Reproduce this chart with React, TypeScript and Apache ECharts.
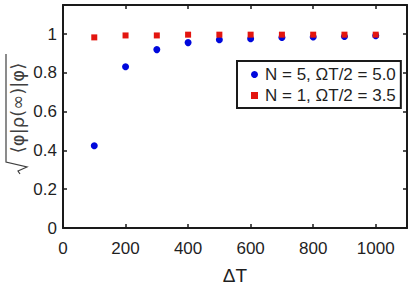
import React, { useEffect, useRef } from "react";
import * as echarts from "echarts";

const deltaT = [100, 200, 300, 400, 500, 600, 700, 800, 900, 1000];
const fidelityN5 = [0.424, 0.832, 0.92, 0.956, 0.971, 0.976, 0.983, 0.985, 0.988, 0.992];
const fidelityN1 = [0.983, 0.993, 0.993, 0.997, 0.997, 0.997, 0.997, 0.997, 0.997, 0.997];
const seriesNames = ["N = 5, \u03A9T/2 = 5.0", "N = 1, \u03A9T/2 = 3.5"];
const xTitle = "\u0394T";
const yTitle = "\u27E8\u03C6|\u03C1(\u221E)|\u03C6\u27E9";

const FONT = "Liberation Sans";
const AX = "#1f1f1f";

export default function App() {
  const ref = useRef<HTMLDivElement>(null);
  useEffect(() => {
    if (!ref.current) return;
    const chart = echarts.init(ref.current, undefined, { renderer: "svg" });
    const axisCommon = {
      axisLine: { show: true, onZero: false, lineStyle: { color: "#1a1a1a", width: 2, opacity: 1 } },
      axisTick: { show: true, inside: true, length: 4, lineStyle: { color: "#1a1a1a", width: 1.5, opacity: 1 } },
      splitLine: { show: false },
    };
    const xBase = { type: "value", min: 0, max: 1100, interval: 200, ...axisCommon };
    const yBase = { type: "value", min: 0, max: 1.15, interval: 0.2, ...axisCommon };
    chart.setOption({
      animation: false,
      backgroundColor: "#ffffff",
      grid: { left: 63, right: 7, top: 5, bottom: 57, containLabel: false, outerBoundsMode: "none" },
      xAxis: [
        {
          ...xBase,
          position: "bottom",
          axisLabel: {
            show: true,
            color: AX,
            fontFamily: FONT,
            fontSize: 17,
            margin: 12,
            formatter: (v: number) => (v > 1000 ? "" : String(v)),
          },
          name: xTitle,
          nameLocation: "middle",
          nameGap: 38,
          nameTextStyle: { color: AX, fontFamily: FONT, fontSize: 19 },
        },
        { ...xBase, position: "top", axisLabel: { show: false } },
      ],
      yAxis: [
        {
          ...yBase,
          position: "left",
          axisLabel: {
            show: true,
            color: AX,
            fontFamily: FONT,
            fontSize: 17,
            margin: 6,
            formatter: (v: number) => (v > 1.01 ? "" : String(Math.round(v * 10) / 10)),
          },
        },
        { ...yBase, position: "right", axisLabel: { show: false } },
      ],
      legend: {
        left: 237,
        top: 61,
        orient: "vertical",
        backgroundColor: "#ffffff",
        borderColor: "#1a1a1a",
        borderWidth: 2,
        borderRadius: 0,
        padding: [5, 5, 4, 14],
        itemGap: 4,
        itemWidth: 7,
        itemHeight: 7,
        textStyle: { color: AX, fontFamily: FONT, fontSize: 17, lineHeight: 17, padding: [0, 0, 0, 2] },
        data: [
          { name: seriesNames[0], icon: "circle" },
          { name: seriesNames[1], icon: "rect" },
        ],
      },
      series: [
        {
          name: seriesNames[0],
          type: "scatter",
          symbol: "circle",
          symbolSize: 7,
          itemStyle: { color: "#0008dc", opacity: 1 },
          data: deltaT.map((x, i) => [x, fidelityN5[i]]),
        },
        {
          name: seriesNames[1],
          type: "scatter",
          symbol: "rect",
          symbolSize: 6,
          itemStyle: { color: "#e3150f", opacity: 1 },
          data: deltaT.map((x, i) => [x, fidelityN1[i]]),
        },
      ],
      graphic: [
        {
          type: "group",
          x: 17,
          y: 114,
          rotation: Math.PI / 2,
          children: [
            {
              type: "polyline",
              shape: { points: [[-60, 3], [-57, 1], [-53, 10], [-48, -11], [60, -11]] },
              style: { stroke: "#404040", lineWidth: 1.2, fill: null },
            },
            {
              type: "text",
              x: 6,
              y: 0,
              style: {
                text: yTitle,
                font: '18px "DejaVu Sans"',
                fill: "#404040",
                textAlign: "center",
                textVerticalAlign: "middle",
              },
            },
          ],
        },
      ],
    });
    return () => chart.dispose();
  }, []);
  return <div ref={ref} style={{ width: 414, height: 285, position: "absolute", left: 0, top: 0 }} />;
}
